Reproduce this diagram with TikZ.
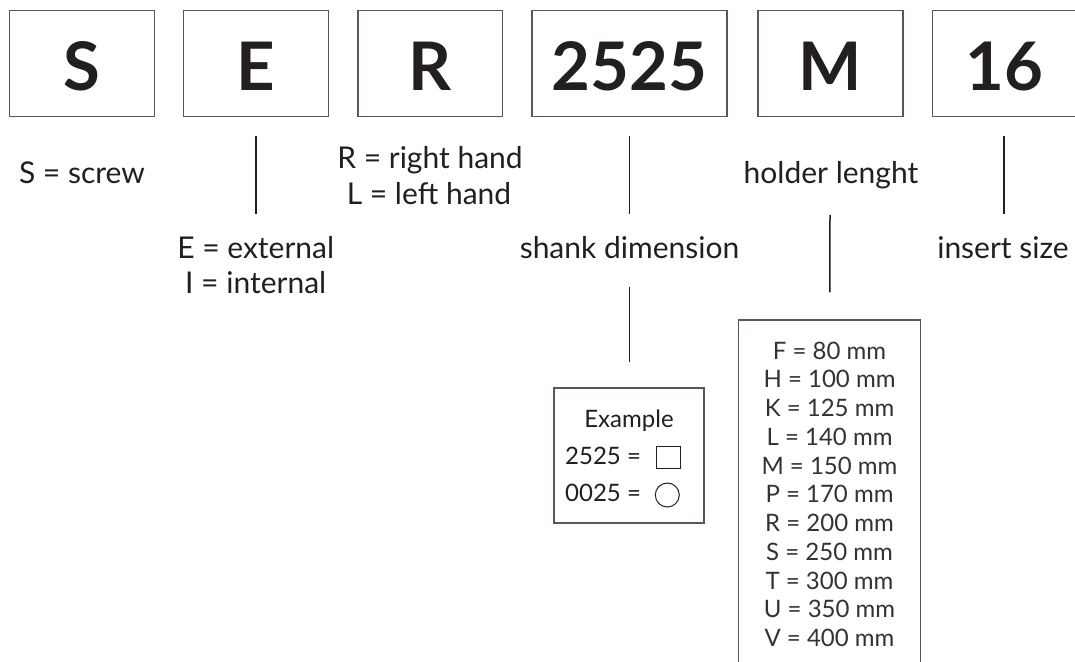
\documentclass[tikz,border=0pt]{standalone}
\usepackage{fontspec}
\setmainfont{Lato}
\usetikzlibrary{calc}
\definecolor{ink}{HTML}{231F20}
\definecolor{boxc}{HTML}{5E5267}
\definecolor{listc}{HTML}{333333}
\begin{document}
\begin{tikzpicture}[x=1pt,y=-1pt]
\tikzset{
  codebox/.style={draw=boxc, line width=1.5pt, fill=white, minimum height=106pt, inner sep=0pt,
    text height=53pt, text depth=0pt, font=\fontsize{67}{67}\selectfont\bfseries, text=ink},
  lbl/.style={font=\fontsize{30}{36}\selectfont, text=ink, inner sep=0pt, anchor=base},
  exl/.style={font=\fontsize{24}{28}\selectfont, text=ink, inner sep=0pt, anchor=base},
  lst/.style={font=\fontsize{24}{28}\selectfont, text=listc, inner sep=0pt, anchor=base},
  frame/.style={draw=boxc, line width=1.5pt, inner sep=0pt},
  lead/.style={draw=ink, line width=1.5pt},
}
\fill[white] (0,0) rectangle (1075,661);
\useasboundingbox (0,0) rectangle (1075,661);
% code boxes
\node[codebox, minimum width=144.7pt] (bS) at (82,63.5) {S};
\node[codebox, minimum width=144.7pt] (bE) at (255.9,63.5) {E};
\node[codebox, minimum width=144.7pt] (bR) at (430.3,63.5) {R};
\node[codebox, minimum width=195pt] (b2525) at (629.5,63.5) {2525};
\node[codebox, minimum width=144.7pt] (bM) at (830.5,63.5) {M};
\node[codebox, minimum width=144.7pt] (b16) at (1004.7,63.5) {16};
% labels
\node[lbl] (tS) at (82,183) {S = screw};
\node[lbl] (tR1) at (430,168) {R = right hand};
\node[lbl] (tR2) at (429,204) {L = left hand};
\node[lbl] (tE1) at (255.7,258) {E = external};
\node[lbl] (tE2) at (255.7,293) {I = internal};
\node[lbl] (tShank) at (629.5,258) {shank dimension};
\node[lbl] (tHolder) at (831,183) {holder lenght};
\node[lbl] (tInsert) at (1003,258) {insert size};
% example box
\node[frame, minimum width=150pt, minimum height=135pt] (ex) at (629,455.5) {};
\node[exl] (exT) at (629,427.7) {Example};
\node[exl, anchor=base west] (exA) at (565,464) {2525 =};
\node[exl, anchor=base west] (exB) at (565,501) {0025 =};
\node[draw=ink, line width=1pt, minimum width=24pt, minimum height=22pt, inner sep=0pt] (sq) at (668,457) {};
\node[draw=ink, line width=1pt, circle, minimum size=24pt, inner sep=0pt] (ci) at (667.3,495) {};
% holder list box
\node[frame, minimum width=182.4pt, minimum height=380pt] (hl) at (829.5,510) {};
\foreach \t [count=\i from 0] in {F = 80 mm, H = 100 mm, K = 125 mm, L = 140 mm, M = 150 mm, P = 170 mm, R = 200 mm, S = 250 mm, T = 300 mm, U = 350 mm, V = 400 mm}
  \node[lst] (li\i) at (829.5,359+28.77*\i) {\t};
% leaders
\coordinate (eT) at ($(bE.south)+(0,18.5)$);
\coordinate (eB) at ($(bE.south)+(0,96.5)$);
\draw[lead] (eT) -- (eB);
\coordinate (nT) at ($(b2525.south)+(0,18.5)$);
\coordinate (nB) at ($(b2525.south)+(0,96.5)$);
\draw[lead] (nT) -- (nB);
\coordinate (iT) at ($(b16.south)+(-0.7,18.5)$);
\coordinate (iB) at ($(b16.south)+(-0.7,96.5)$);
\draw[lead] (iT) -- (iB);
\coordinate (mT) at ($(bM.south)+(-0.5,97.5)$);
\coordinate (mB) at ($(hl.north)+(0.3,-27)$);
\draw[lead] (mT) -- (mB);
\coordinate (sT) at ($(b2525.south)+(0,169.5)$);
\coordinate (sB) at ($(ex.north)+(0.5,-25)$);
\draw[lead] (sT) -- (sB);
\end{tikzpicture}
\end{document}
